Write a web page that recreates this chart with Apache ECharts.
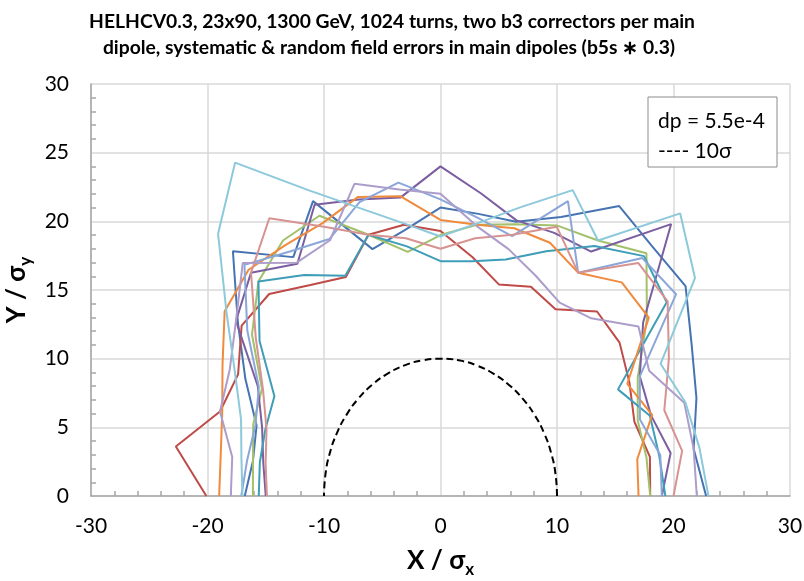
<!DOCTYPE html>
<html lang="en">
  <head>
    <meta charset="UTF-8" />
    <title>HELHC dynamic aperture</title>
    <script src="https://cdn.jsdelivr.net/npm/echarts@6/dist/echarts.min.js"></script>
    <style>
      * {
        padding: 0;
        margin: 0;
      }
      #main {
        width: 804px;
        height: 581px;
        background-color: #ffffff;
      }
    </style>
  </head>
  <body>
    <div id="main"></div>
    <script>
      // scan angles (deg), one radius per angle for each seed
      var angles = [0, 9, 18, 27, 36, 45, 54, 63, 72, 81, 90, 99, 108, 117, 126, 135, 144, 153, 162, 171, 180];

      var seedBlue = [22.8, 22.0, 23.1, 24.2, 26.0, 25.7, 26.1, 22.8, 21.0, 20.8, 21.0, 19.6, 18.9, 24.1, 21.5, 25.2, 21.5, 18.8, 16.6, 16.3, 16.8];
      var seedRed = [18.0, 18.2, 17.5, 18.2, 19.0, 19.0, 16.8, 17.1, 16.2, 17.6, 19.3, 20.0, 20.0, 17.9, 19.0, 20.8, 21.1, 19.5, 19.9, 23.0, 20.1];
      var seedGreen = [18.0, 17.9, 17.8, 19.0, 21.9, 25.0, 23.0, 22.1, 20.8, 20.0, 19.0, 18.0, 20.0, 22.9, 23.0, 22.1, 20.0, 17.2, 16.9, 16.3, 16.1];
      var seedPurple = [19.0, 20.0, 19.0, 19.2, 21.5, 28.0, 22.0, 21.5, 21.1, 22.3, 24.0, 22.0, 22.7, 23.8, 20.9, 23.0, 21.7, 17.6, 16.1, 15.4, 15.0];
      var seedTeal = [19.3, 19.0, 18.9, 17.1, 24.0, 24.7, 22.5, 20.0, 18.1, 17.3, 17.1, 18.4, 20.0, 18.0, 19.9, 22.1, 19.2, 16.0, 15.8, 15.7, 15.6];
      var seedOrange = [17.0, 17.1, 19.1, 18.0, 22.1, 22.0, 20.1, 20.7, 20.5, 20.0, 20.1, 22.1, 22.9, 22.3, 22.6, 23.3, 22.9, 21.0, 19.7, 19.1, 19.0];
      var seedPeriwinkle = [19.0, 19.1, 18.0, 19.2, 25.0, 24.5, 20.1, 24.1, 19.9, 20.5, 21.6, 23.1, 22.5, 21.0, 22.0, 23.8, 20.5, 17.5, 16.7, 16.8, 17.1];
      var seedPink = [20.0, 21.0, 20.2, 22.0, 24.1, 24.0, 20.1, 22.0, 20.0, 19.0, 18.0, 19.0, 20.0, 22.0, 25.0, 23.0, 19.6, 17.1, 15.7, 15.2, 14.9];
      var seedLilac = [22.0, 22.0, 22.0, 20.1, 21.0, 18.3, 17.4, 18.0, 18.9, 19.9, 22.0, 22.6, 23.9, 20.9, 21.0, 24.0, 21.7, 20.3, 19.9, 18.1, 18.0];
      var seedCyan = [23.0, 22.5, 22.1, 21.2, 27.0, 29.1, 23.0, 25.0, 22.1, 20.1, 18.9, 20.1, 22.0, 25.0, 30.0, 27.0, 22.7, 19.8, 18.0, 17.3, 17.0];

      // 10 sigma reference half circle
      var sigma10 = [10, 10, 10, 10, 10, 10, 10, 10, 10, 10, 10, 10, 10, 10, 10, 10, 10, 10, 10, 10, 10];

      var seedData = [seedBlue, seedRed, seedGreen, seedPurple, seedTeal, seedOrange, seedPeriwinkle, seedPink, seedLilac, seedCyan];
      var seedColors = ["#4674b2", "#be4b48", "#a2c16a", "#7b5ea0", "#3e9db7", "#f08a3c", "#8ba6d8", "#d79391", "#ac9dca", "#8cc9db"];

      var fontName = "Lato, 'Liberation Sans', sans-serif";

      function toXY(radii) {
        return radii.map(function (r, i) {
          var a = (angles[i] * Math.PI) / 180;
          return [r * Math.cos(a), r * Math.sin(a)];
        });
      }

      var series = seedData.map(function (r, i) {
        return {
          name: "seed " + (i + 1),
          type: "line",
          symbol: "none",
          lineStyle: { color: seedColors[i], width: 2 },
          data: toXY(r),
        };
      });
      series.push({
        name: "10 sigma",
        type: "line",
        symbol: "none",
        smooth: true,
        lineStyle: { color: "#000000", width: 2, type: [7, 4] },
        data: toXY(sigma10),
      });

      var nameRich = {
        a: { fontFamily: fontName, fontSize: 26, fontWeight: "bold", color: "#000", lineHeight: 34 },
        b: { fontFamily: fontName, fontSize: 17, fontWeight: "bold", color: "#000", lineHeight: 17, verticalAlign: "bottom" },
      };

      var myChart = echarts.init(document.getElementById("main"));
      var option = {
        animation: false,
        backgroundColor: "#ffffff",
        grid: { left: 91, right: 14, top: 84, bottom: 85, containLabel: false, outerBoundsMode: "none" },
        xAxis: {
          type: "value",
          min: -30,
          max: 30,
          interval: 10,
          name: "{a|X / σ}{b|x}",
          nameLocation: "middle",
          nameGap: 48,
          nameTextStyle: { rich: nameRich },
          axisLine: { onZero: false, lineStyle: { color: "#a6a6a6", width: 1.5 } },
          axisTick: { show: false },
          minorTick: { show: true, splitNumber: 5, length: -5, lineStyle: { color: "#a6a6a6", width: 1.5 } },
          axisLabel: { color: "#000", fontSize: 21, fontFamily: fontName, margin: 20 },
          splitLine: { show: true, lineStyle: { color: "#d9d9d9", width: 1.5 } },
        },
        yAxis: {
          type: "value",
          min: 0,
          max: 30,
          interval: 5,
          name: "{a|Y / σ}{b|y}",
          nameLocation: "middle",
          nameGap: 44,
          nameRotate: 90,
          nameTextStyle: { rich: nameRich },
          axisLine: { show: true, onZero: false, lineStyle: { color: "#a6a6a6", width: 1.5 } },
          axisTick: { show: false },
          minorTick: { show: true, splitNumber: 5, length: -5, lineStyle: { color: "#a6a6a6", width: 1.5 } },
          axisLabel: { color: "#000", fontSize: 21, fontFamily: fontName, margin: 22 },
          splitLine: { show: true, lineStyle: { color: "#d9d9d9", width: 1.5 } },
        },
        graphic: [
          {
            type: "text",
            x: 392,
            y: 22,
            style: {
              text: "HELHCV0.3, 23x90, 1300 GeV, 1024 turns, two b3 correctors per main",
              fontFamily: fontName,
              fontSize: 19.3,
              fontWeight: "bold",
              fill: "#000",
              textAlign: "center",
              textVerticalAlign: "middle",
            },
          },
          {
            type: "text",
            x: 389,
            y: 48,
            style: {
              text: "dipole, systematic & random field errors in main dipoles (b5s ∗ 0.3)",
              fontFamily: fontName,
              fontSize: 19.3,
              fontWeight: "bold",
              fill: "#000",
              textAlign: "center",
              textVerticalAlign: "middle",
            },
          },
          {
            type: "rect",
            shape: { x: 648, y: 97, width: 129, height: 70 },
            style: { fill: "#ffffff", stroke: "#8c8c8c", lineWidth: 1 },
            z: 10,
          },
          {
            type: "text",
            x: 658,
            y: 121,
            z: 11,
            style: { text: "dp = 5.5e-4", fontFamily: fontName, fontSize: 21, fill: "#000", textVerticalAlign: "middle" },
          },
          {
            type: "text",
            x: 658,
            y: 151,
            z: 11,
            style: { text: "---- 10σ", fontFamily: fontName, fontSize: 21, fill: "#000", textVerticalAlign: "middle" },
          },
        ],
        series: series,
      };
      myChart.setOption(option);
    </script>
  </body>
</html>
